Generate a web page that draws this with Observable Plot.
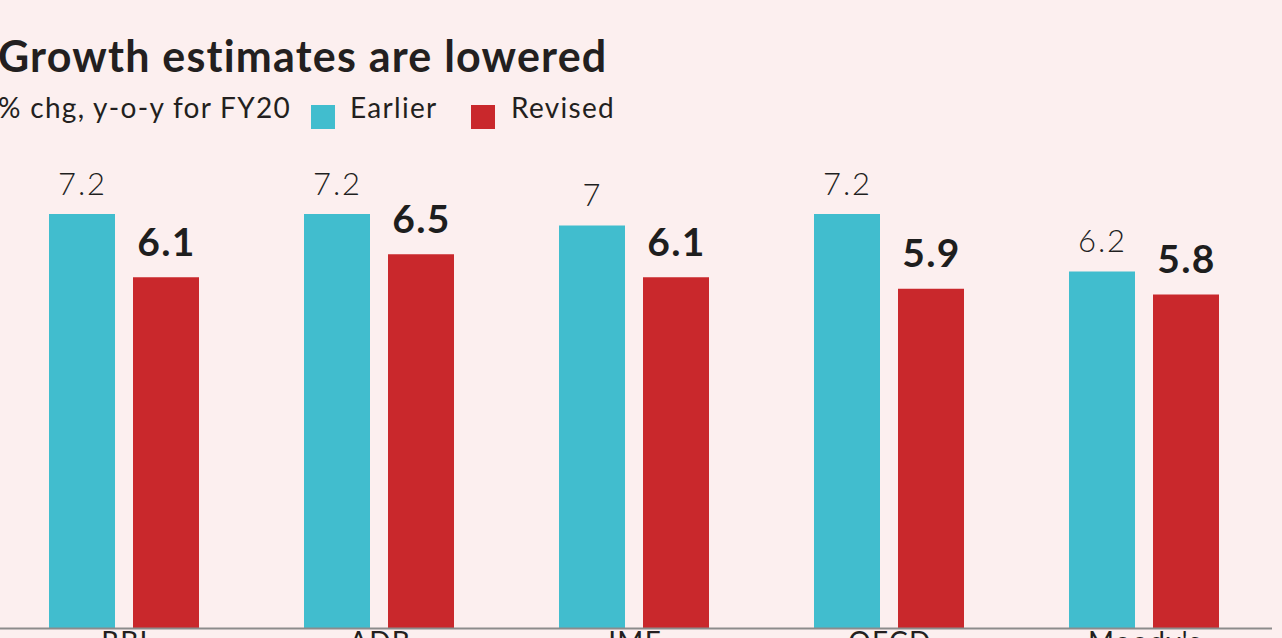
<!DOCTYPE html>
<html>
<head>
<meta charset="utf-8">
<script src="https://cdn.jsdelivr.net/npm/d3@7"></script>
<script src="https://cdn.jsdelivr.net/npm/@observablehq/plot@0.6"></script>
<style>
  html, body { margin: 0; padding: 0; background: #fcefef; overflow: hidden; }
  body { width: 1282px; height: 638px; position: relative; font-family: Lato, sans-serif; color: #231f20; }
  #title { position: absolute; left: -2px; top: 34px; font-size: 43px; line-height: 1; font-weight: 700; white-space: nowrap; letter-spacing: 1.2px; }
  .sub { position: absolute; top: 93px; font-size: 28px; line-height: 1; white-space: nowrap; letter-spacing: 1.3px; }
  .sw { position: absolute; top: 105px; width: 24px; height: 24px; }
  #chart { position: absolute; left: 0; top: 140px; }
</style>
</head>
<body>
<div id="title">Growth estimates are lowered</div>
<div class="sub" style="left:-2px">% chg, y-o-y for FY20</div>
<div id="legend"></div>
<div id="chart"></div>
<script>
const agencies = ["RBI", "ADB", "IMF", "OECD", "Moody's"];
const earlier = [7.2, 7.2, 7, 7.2, 6.2];
const revised = [6.1, 6.5, 6.1, 5.9, 5.8];
const seriesNames = ["Earlier", "Revised"];
const seriesColors = ["#41bdce", "#c9282c"];

const data = agencies.flatMap((a, i) => [
  {agency: a, series: "Earlier", value: earlier[i]},
  {agency: a, series: "Revised", value: revised[i]}
]);

// legend
const legend = document.getElementById("legend");
const legendPos = [[311, 350], [471, 511]];
seriesNames.forEach((s, i) => {
  const sw = document.createElement("div");
  sw.className = "sw";
  sw.style.left = legendPos[i][0] + "px";
  sw.style.background = seriesColors[i];
  legend.appendChild(sw);
  const t = document.createElement("div");
  t.className = "sub";
  t.style.left = legendPos[i][1] + "px";
  t.textContent = s;
  legend.appendChild(t);
});

const chart = Plot.plot({
  width: 1282,
  height: 538,
  marginTop: 28,
  marginBottom: 50,
  marginLeft: 0,
  marginRight: 0,
  style: {background: "transparent", fontFamily: "Lato, sans-serif", fontSize: "28px", color: "#231f20", overflow: "visible", letterSpacing: "1.3px"},
  fx: {domain: agencies, range: [-4.75, 1272.75], padding: 0, axis: "bottom", label: null, tickSize: 0, tickPadding: 4},
  x: {domain: seriesNames, paddingInner: 0.212, paddingOuter: 0.609, axis: null},
  y: {domain: [0, 8], axis: null},
  color: {domain: seriesNames, range: seriesColors},
  marks: [
    Plot.barY(data, {fx: "agency", x: "series", y: "value", fill: "series"}),
    Plot.ruleY([0], {stroke: "#8c8c8c", strokeWidth: 2}),
    Plot.text(data, {filter: d => d.series === "Earlier", fx: "agency", x: "series", y: "value",
      text: d => String(d.value), lineAnchor: "bottom", dy: -20, fontSize: 31, fontWeight: 300, fill: "#1f1f1f"}),
    Plot.text(data, {filter: d => d.series === "Revised", fx: "agency", x: "series", y: "value",
      text: d => String(d.value), lineAnchor: "bottom", dy: -22, fontSize: 39, fontWeight: 700, fill: "#1e1e1e"})
  ]
});
chart.querySelectorAll("text").forEach(t => {
  if (t.getAttribute("font-weight") === "300" || (t.parentNode && t.parentNode.getAttribute("font-weight") === "300")) t.style.letterSpacing = "2px";
});
document.getElementById("chart").appendChild(chart);
</script>
</body>
</html>
